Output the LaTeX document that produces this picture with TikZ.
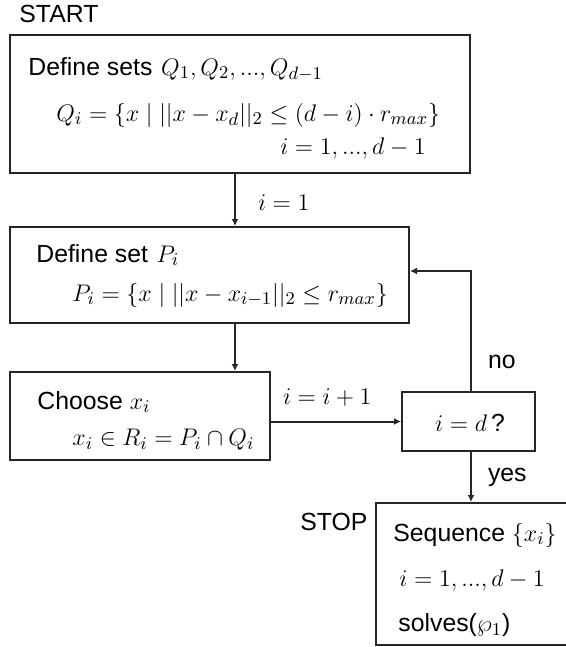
\documentclass[tikz,border=0pt]{standalone}
\usepackage{fontspec}
\setmainfont{Liberation Sans}
\usetikzlibrary{arrows.meta}
\begin{document}
\begin{tikzpicture}[x=0.5pt,y=-0.5pt]
	\tikzset{box/.style={draw=black!85, line width=1pt, inner sep=0pt},
		txt/.style={inner sep=0pt, anchor=west, font=\fontsize{12.4}{15}\selectfont},
		flow/.style={draw=black!85, line width=1pt, -{Latex[length=3.5pt,width=3.5pt]}}}
	\useasboundingbox (0,0) rectangle (566,647);
	% boxes
	\node[box, minimum width=230pt, minimum height=69pt] (sets) at (240,104) {};
	\node[box, minimum width=199.5pt, minimum height=48pt] (setp) at (209.5,275) {};
	\node[box, minimum width=130pt, minimum height=44pt] (choose) at (140,416) {};
	\node[box, minimum width=66.5pt, minimum height=29.5pt] (test) at (468.5,421.5) {};
	\node[box, minimum width=95.5pt, minimum height=71pt] (stop) at (471.5,574) {};
	\coordinate (col) at (235,0);
	\coordinate (back) at (471,271);
	% texts
	\node[txt] (start) at (19,14) {START};
	\node[txt] (t1) at (28,69) {Define sets\hspace{0.35em}$Q_1,Q_2,...,Q_{d-1}$};
	\node[txt] (t2) at (56,115) {$Q_i=\{x\mid ||x-x_d||_2\leq (d-i)\cdot r_{max}\}$};
	\node[txt, anchor=east] (t3) at (426,148) {$i=1,...,d-1$};
	\node[txt] (t4) at (36,255) {Define set\hspace{0.35em}$P_i$};
	\node[txt] (t5) at (72,295) {$P_i=\{x\mid ||x-x_{i-1}||_2\leq r_{max}\}$};
	\node[txt] (t6) at (37,402) {Choose $x_i$};
	\node[txt] (t7) at (72,440) {$x_i\in R_i=P_i\cap Q_i$};
	\node[txt, anchor=center] (t8) at (470,423) {$i=d\,$?};
	\node[txt] (t9) at (393,535) {Sequence $\{x_i\}$};
	\node[txt] (t10) at (399,580) {$i=1,...,d-1$};
	\node[txt] (t11) at (398,625) {solves($\wp_1$)};
	\node[txt] (stoptag) at (300,522) {STOP};
	% connectors
	\draw[flow] (sets.south -| col) -- (setp.north -| col)
		node[txt, pos=0.55, xshift=11pt] {$i=1$};
	\draw[flow] (setp.south -| col) -- (choose.north -| col);
	\draw[flow] (test.west -| choose.east) -- (test.west)
		node[txt, at start, xshift=5.5pt, yshift=12pt] {$i=i+1$};
	\draw[flow] (test.north -| back) |- (setp.east |- back)
		node[txt, pos=0.12, xshift=8pt] {no};
	\draw[flow] (test.south -| back) -- (stop.north -| back)
		node[txt, midway, xshift=8pt] {yes};
\end{tikzpicture}
\end{document}
